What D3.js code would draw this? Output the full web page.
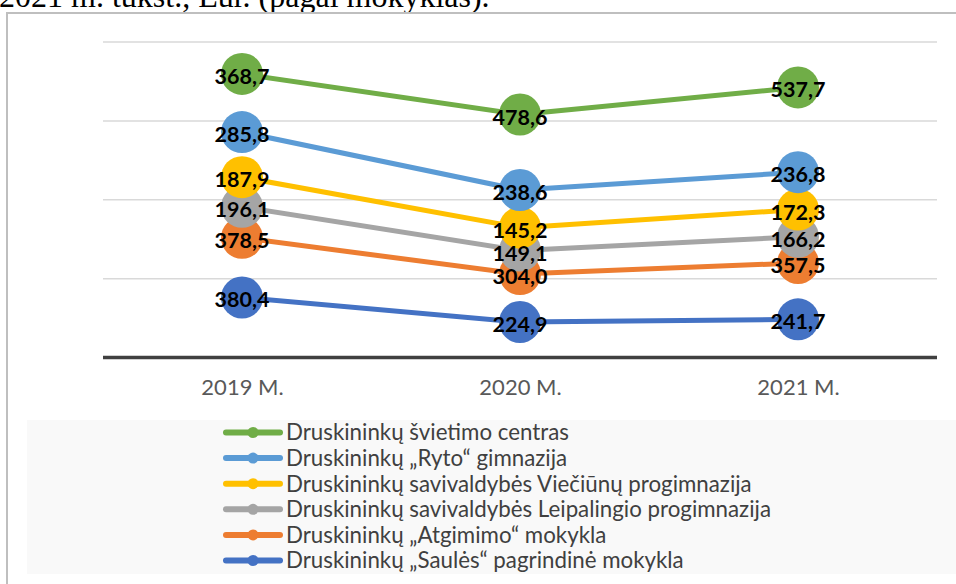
<!DOCTYPE html>
<html>
<head>
<meta charset="utf-8">
<script src="https://cdn.jsdelivr.net/npm/d3@7"></script>
<style>
  body { margin: 0; background: #fff; }
  svg { display: block; }
</style>
</head>
<body>
<svg id="chart" width="956" height="584"></svg>
<script>
// data (thousand EUR by school)
const years = ["2019 M.", "2020 M.", "2021 M."]
const schools = [
  "Druskininkų „Saulės“ pagrindinė mokykla",
  "Druskininkų „Atgimimo“ mokykla",
  "Druskininkų savivaldybės Leipalingio progimnazija",
  "Druskininkų savivaldybės Viečiūnų progimnazija",
  "Druskininkų „Ryto“ gimnazija",
  "Druskininkų švietimo centras"
]
const saules = [380.4, 224.9, 241.7]
const atgimimo = [378.5, 304.0, 357.5]
const leipalingio = [196.1, 149.1, 166.2]
const vieciunu = [187.9, 145.2, 172.3]
const ryto = [285.8, 238.6, 236.8]
const svietimo = [368.7, 478.6, 537.7]
const yTicks = [0, 500, 1000, 1500, 2000]

const seriesValues = [saules, atgimimo, leipalingio, vieciunu, ryto, svietimo]
const colors = ["#4472C4", "#ED7D31", "#A5A5A5", "#FFC000", "#5B9BD5", "#70AD47"]

const svg = d3.select("#chart")

// title line from the document, cut at the top
svg.append("text")
  .attr("x", -1)
  .attr("y", 7)
  .style("font-family", "'Liberation Serif', 'Times New Roman', serif")
  .style("font-size", "32px")
  .attr("fill", "#000")
  .text("2021 m. tūkst., Eur. (pagal mokyklas).")

// chart frame
svg.append("path")
  .attr("d", "M7,590 V13 H960")
  .attr("fill", "none")
  .attr("stroke", "#bfbfbf")
  .attr("stroke-width", 2)

const rows = years.map((y, i) => {
  const r = { year: y }
  schools.forEach((s, k) => r[s] = seriesValues[k][i])
  return r
})
const stacked = d3.stack().keys(schools)(rows)

const x = d3.scalePoint().domain(years).range([103, 937]).padding(0.5)
const y = d3.scaleLinear().domain([0, 2000]).range([357.5, 42])

// gridlines
svg.append("g")
  .selectAll("line")
  .data(yTicks.slice(1))
  .enter().append("line")
  .attr("x1", 103).attr("x2", 937)
  .attr("y1", d => y(d)).attr("y2", d => y(d))
  .attr("stroke", "#d9d9d9")
  .attr("stroke-width", 1.5)

// x axis
const xAxis = svg.append("g")
  .attr("transform", `translate(0,${y(0)})`)
  .call(d3.axisBottom(x).tickSize(0).tickPadding(22))
xAxis.select(".domain")
  .attr("d", "M103,0H937")
  .attr("stroke", "#404040")
  .attr("stroke-width", 3.5)
xAxis.selectAll("text")
  .style("font-family", "Lato, 'Open Sans', sans-serif")
  .style("font-size", "22px")
  .attr("fill", "#595959")

const line = d3.line()
  .x(d => x(d.data.year))
  .y(d => y(d[1]))

const series = svg.append("g")
  .selectAll("g")
  .data(stacked)
  .enter().append("g")

series.append("path")
  .attr("d", line)
  .attr("fill", "none")
  .attr("stroke", (d, i) => colors[i])
  .attr("stroke-width", 5)
  .attr("stroke-linejoin", "round")

series.selectAll("circle")
  .data((d, i) => d.map(p => ({ p, c: colors[i] })))
  .enter().append("circle")
  .attr("cx", d => x(d.p.data.year))
  .attr("cy", d => y(d.p[1]))
  .attr("r", 21)
  .attr("fill", d => d.c)

// value labels on top of everything
const labels = svg.append("g")
stacked.forEach((s, i) => {
  labels.selectAll(null)
    .data(s)
    .enter().append("text")
    .attr("x", d => x(d.data.year))
    .attr("y", d => y(d[1]) + 2)
    .attr("text-anchor", "middle")
    .attr("dominant-baseline", "central")
    .style("font-family", "Lato, 'Open Sans', sans-serif")
    .style("font-weight", "bold")
    .style("font-size", "21.5px")
    .attr("fill", "#000")
    .text(d => d3.format(".1f")(d[1] - d[0]).replace(".", ","))
})

// legend
const legendOrder = schools.slice().reverse()
svg.append("rect")
  .attr("x", 27).attr("y", 420)
  .attr("width", 940).attr("height", 154)
  .attr("fill", "#f9f9f9")

const legend = svg.append("g")
  .selectAll("g")
  .data(legendOrder)
  .enter().append("g")
  .attr("transform", (d, i) => `translate(0,${432.5 + i * 25.6})`)

legend.append("line")
  .attr("x1", 226).attr("x2", 280)
  .attr("stroke", d => colors[schools.indexOf(d)])
  .attr("stroke-width", 6)
  .attr("stroke-linecap", "round")
legend.append("circle")
  .attr("cx", 253).attr("r", 5.5)
  .attr("fill", d => colors[schools.indexOf(d)])
legend.append("text")
  .attr("x", 286)
  .attr("dy", "0.35em")
  .style("font-family", "Lato, 'Open Sans', sans-serif")
  .style("font-size", "22.3px")
  .attr("fill", "#404040")
  .text(d => d)
</script>
</body>
</html>
